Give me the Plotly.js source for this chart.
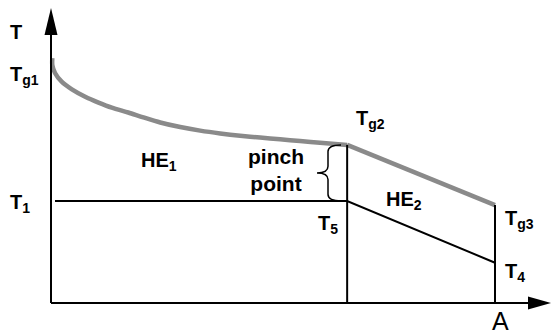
<!DOCTYPE html>
<html><head><meta charset="utf-8">
<script src="https://cdn.plot.ly/plotly-3.0.1.min.js"></script>
<style>html,body{margin:0;padding:0;background:#fff}#chart{width:551px;height:334px}</style>
</head><body><div id="chart"></div>
<script>
// Hot gas temperature curve: T_g1 -> T_g2 (pinch)
const gasX = [0.3, 0.3, 0.9, 2.4, 4.7, 7.7, 10.7, 13.7, 17.4, 20.8, 24.6, 29.1, 33.6, 38.1, 42.6, 47.1, 51.6, 56.1, 60.6, 66.7];
const gasY = [96, 93.3, 90.2, 86.8, 83.8, 80.9, 78.6, 76.6, 74.7, 72.8, 70.8, 69.0, 67.6, 66.5, 65.6, 64.9, 64.2, 63.5, 62.8, 62.0];
// Hot gas in HE2: T_g2 -> T_g3
const gas2X = [66.7, 100];
const gas2Y = [62.0, 38.4];
// Working fluid: T1 -> T5 (pinch) -> T4
const coldX = [0.9, 66.7, 100];
const coldY = [40, 40, 15.8];
const pinchX = 66.7, pinchGas = 62.0, pinchCold = 40;
const endX = 100, endGas = 38.4, endCold = 15.8;
const labels = ['T', 'T<sub>g1</sub>', 'T<sub>g2</sub>', 'HE<sub>1</sub>', 'pinch<br>point', 'T<sub>1</sub>', 'T<sub>5</sub>', 'HE<sub>2</sub>', 'T<sub>g3</sub>', 'T<sub>4</sub>', 'A'];

const W = 551, H = 334, ox = 51, oy = 303, sx = 4.44, sy = 2.55;
const xr = [-ox / sx, (W - ox) / sx], yr = [-(H - oy) / sy, oy / sy];
const X = px => (px - ox) / sx, Y = py => (oy - py) / sy;

const blk = {color: '#000', width: 2};
const gray = {color: '#8a8a8a', width: 4.5};
const traces = [
  {x: gasX, y: gasY, mode: 'lines', line: Object.assign({shape: 'spline', smoothing: 0.8}, gray)},
  {x: gas2X, y: gas2Y, mode: 'lines', line: gray},
  {x: coldX, y: coldY, mode: 'lines', line: blk},
  {x: [pinchX, pinchX], y: [0, pinchGas], mode: 'lines', line: blk},
  {x: [endX, endX], y: [0, endGas], mode: 'lines', line: blk}
];

// brace between gas and cold at pinch
const bx = X(328), bt = X(317), be = X(341);
const yT = pinchGas, yB = pinchCold, yM = (yT + yB) / 2, d = 2.6;
const brace = `M${be},${yT} Q${bx},${yT} ${bx},${yT - d} L${bx},${yM + d} Q${bx},${yM} ${bt},${yM} Q${bx},${yM} ${bx},${yM - d} L${bx},${yB + d} Q${bx},${yB} ${be},${yB}`;

const shapes = [
  {type: 'line', x0: 0, y0: 0, x1: X(530), y1: 0, line: blk},
  {type: 'line', x0: 0, y0: 0, x1: 0, y1: Y(32), line: blk},
  {type: 'path', path: `M${X(551)},0 L${X(528)},${6.5/sy} L${X(528)},${-6.5/sy} Z`, fillcolor: '#000', line: {width: 0}},
  {type: 'path', path: `M0,${Y(8)} L${-6.5/sx},${Y(35)} L${6.5/sx},${Y(35)} Z`, fillcolor: '#000', line: {width: 0}},
  {type: 'path', path: brace, line: {color: '#000', width: 1.5}}
];

const F = 'Liberation Sans, Arial, sans-serif';
const fb = {family: F, size: 20, color: '#000'};
function ann(text, px, py, xa, font, bold) {
  return {text: bold === false ? text : '<b>' + text + '</b>', x: X(px), y: Y(py), xref: 'x', yref: 'y', showarrow: false,
    xanchor: xa || 'center', yanchor: 'middle', font: font || fb, align: 'center'};
}
const annotations = [
  ann(labels[0], 16, 32),
  ann(labels[1], 8, 75, 'left'),
  ann(labels[2], 354, 119, 'left'),
  ann(labels[3], 139, 161, 'left'),
  ann(labels[4], 276, 170, 'center', {family: F, size: 21, color: '#000'}),
  ann(labels[5], 8, 203, 'left'),
  ann(labels[6], 316, 224, 'left'),
  ann(labels[7], 384, 200, 'left'),
  ann(labels[8], 503, 219, 'left'),
  ann(labels[9], 503, 272, 'left'),
  ann(labels[10], 500, 321, 'center', {family: F, size: 25, color: '#000'}, false)
];

Plotly.newPlot('chart', traces, {
  width: W, height: H, margin: {l: 0, r: 0, t: 0, b: 0},
  paper_bgcolor: '#fff', plot_bgcolor: '#fff', showlegend: false,
  xaxis: {range: xr, visible: false, fixedrange: true},
  yaxis: {range: yr, visible: false, fixedrange: true},
  shapes: shapes, annotations: annotations
}, {staticPlot: true, displayModeBar: false});
</script></body></html>
